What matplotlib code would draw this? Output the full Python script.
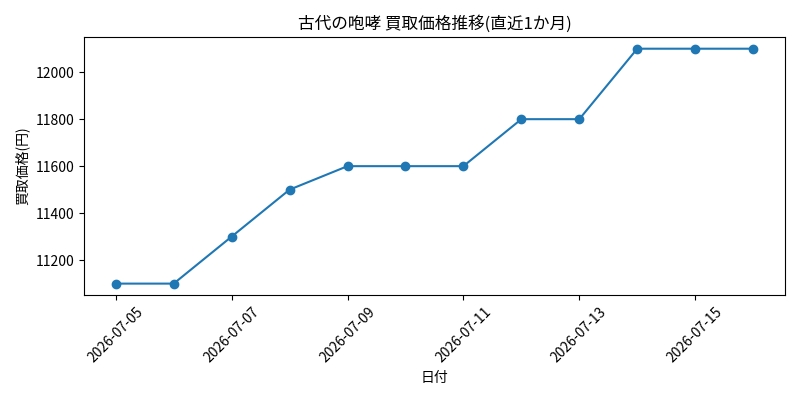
import matplotlib
matplotlib.use("Agg")
import matplotlib.pyplot as plt
import matplotlib.dates as mdates
import pandas as pd

plt.rcParams["font.family"] = ["Noto Sans CJK JP", "DejaVu Sans"]

dates = pd.date_range("2026-07-05", "2026-07-16", freq="D")
prices = [11100, 11100, 11300, 11500, 11600, 11600, 11600,
          11800, 11800, 12100, 12100, 12100]

fig, ax = plt.subplots(figsize=(8, 4), dpi=100)
ax.plot(dates, prices, marker="o", color="#1f77b4")
ax.set_title("古代の咆哮 買取価格推移(直近1か月)")
ax.set_xlabel("日付")
ax.set_ylabel("買取価格(円)")
ax.set_xticks(dates[::2])
ax.xaxis.set_major_formatter(mdates.DateFormatter("%Y-%m-%d"))
plt.setp(ax.get_xticklabels(), rotation=45)
fig.tight_layout()
fig.savefig("out.png")
